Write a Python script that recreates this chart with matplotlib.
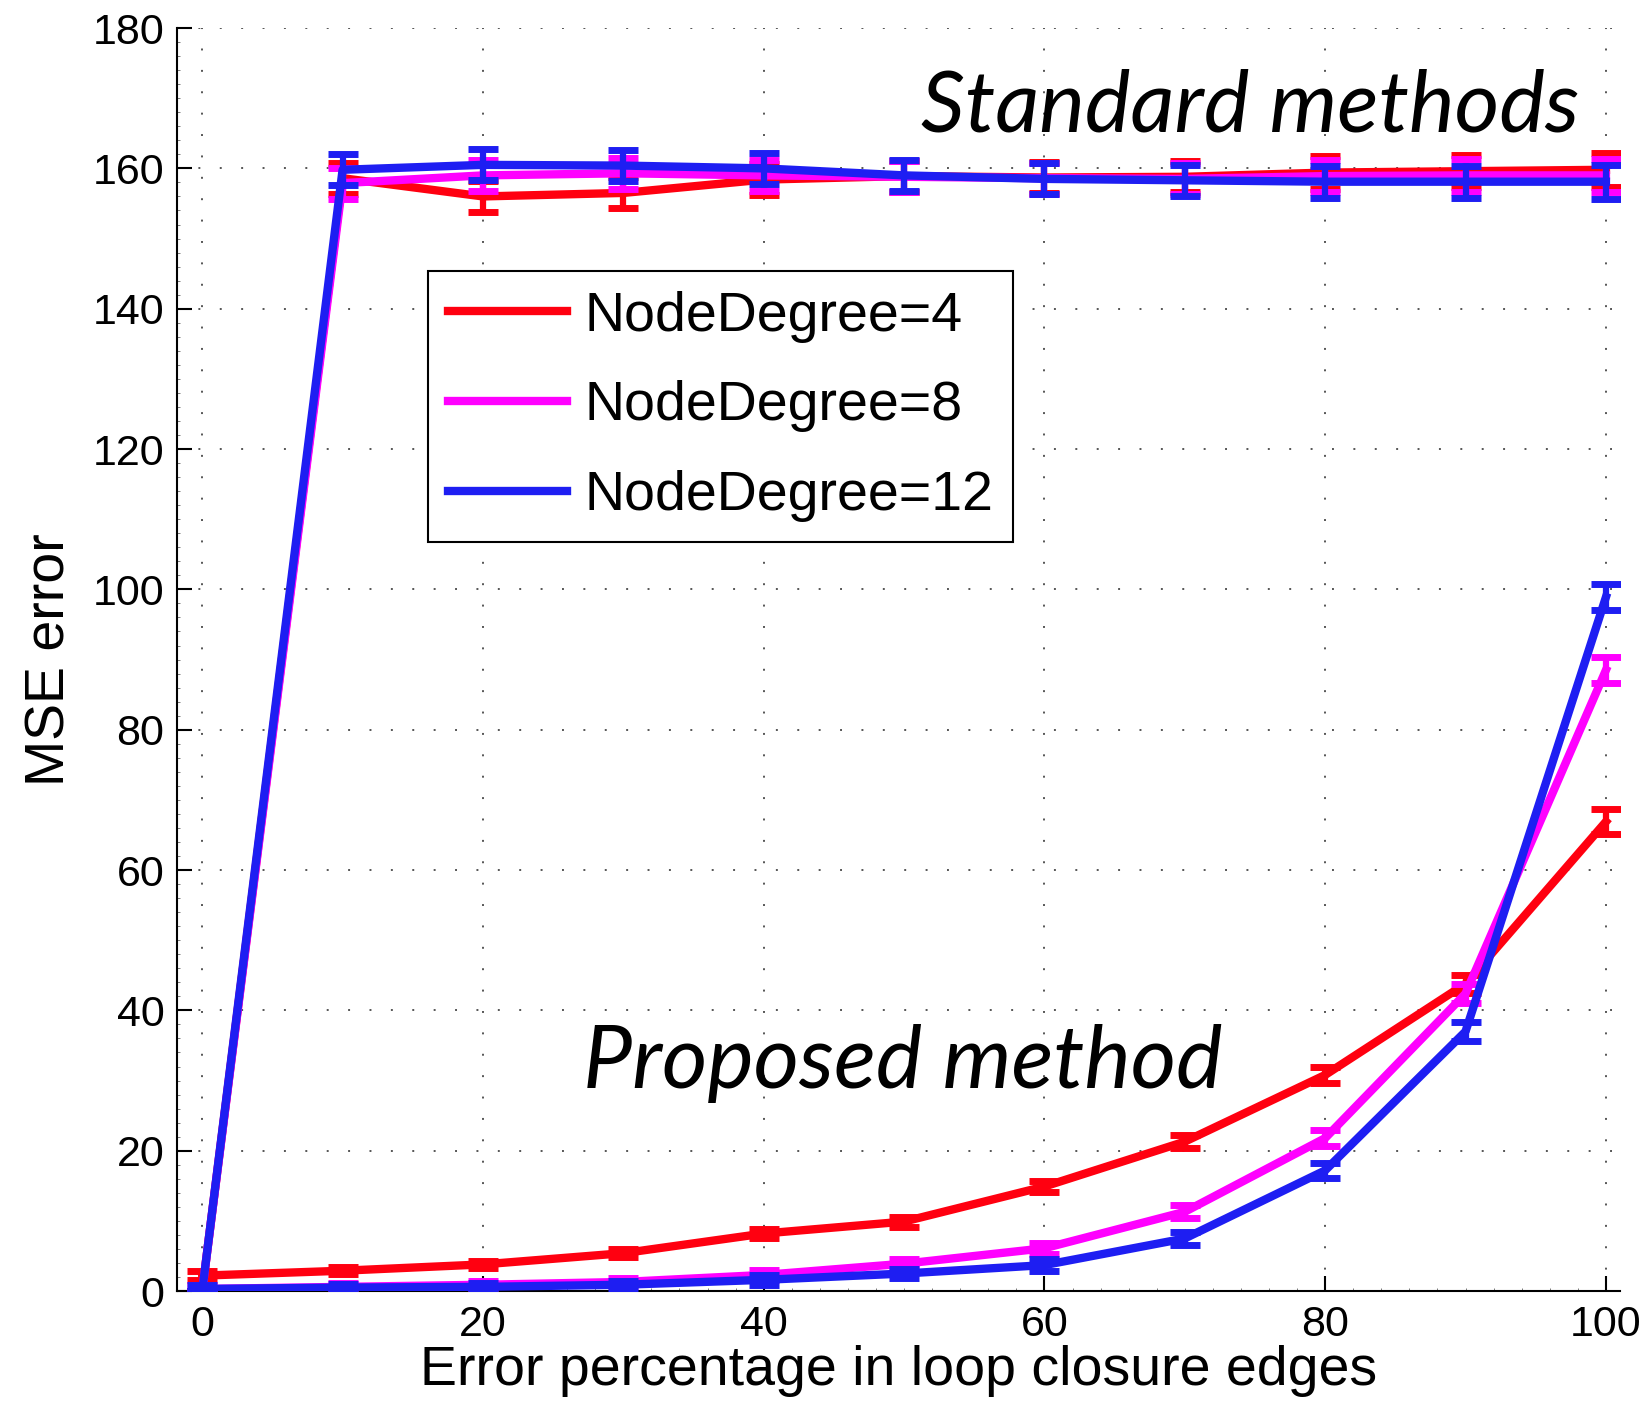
import matplotlib.pyplot as plt
from matplotlib.lines import Line2D
from matplotlib.ticker import MultipleLocator

x = [0, 10, 20, 30, 40, 50, 60, 70, 80, 90, 100]

# standard methods
std_nd4 = [0.0, 158.6, 156.0, 156.5, 158.4, 158.9, 158.7, 158.8, 159.4, 159.6, 159.8]
std_nd8 = [0.0, 157.9, 159.0, 159.3, 159.0, 158.8, 158.6, 158.5, 158.9, 159.0, 159.0]
std_nd12 = [0.0, 159.8, 160.5, 160.4, 160.0, 159.0, 158.5, 158.3, 158.1, 158.1, 158.1]
std_err = [0.0, 2.2, 2.2, 2.2, 2.2, 2.2, 2.2, 2.2, 2.3, 2.3, 2.4]

# proposed method
prop_nd4 = [2.2, 2.9, 3.8, 5.4, 8.2, 9.9, 14.9, 21.3, 30.8, 43.8, 66.9]
prop_nd8 = [0.3, 0.6, 0.9, 1.3, 2.3, 3.9, 6.1, 11.3, 21.8, 42.4, 88.5]
prop_nd12 = [0.3, 0.5, 0.6, 0.9, 1.6, 2.5, 3.7, 7.5, 17.2, 37.0, 98.9]
prop_err = [0.6, 0.5, 0.5, 0.6, 0.7, 0.7, 0.8, 0.9, 1.1, 1.3, 1.8]

labels = ["NodeDegree=4", "NodeDegree=8", "NodeDegree=12"]
colors = ["#ff0010", "#ff00ff", "#1e1ef2"]

plt.rcParams["font.family"] = ["Liberation Sans", "DejaVu Sans"]

fig = plt.figure(figsize=(16.49, 14.09), dpi=100)
ax = fig.add_axes([0.1073, 0.0837, 0.8751, 0.8964])

std = [std_nd4, std_nd8, std_nd12]
prop = [prop_nd4, prop_nd8, prop_nd12]
for i in range(3):
    ax.errorbar(x, std[i], yerr=std_err, color=colors[i], linewidth=6,
                capsize=11, capthick=5, elinewidth=4.5, zorder=3 + i)
    ax.errorbar(x, prop[i], yerr=prop_err, color=colors[i], linewidth=6,
                capsize=11, capthick=5, elinewidth=4.5, zorder=3 + i)

ax.set_xlim(-1.8, 101)
ax.set_ylim(0, 180)
ax.xaxis.set_major_locator(MultipleLocator(20))
ax.yaxis.set_major_locator(MultipleLocator(20))
ax.xaxis.set_minor_locator(MultipleLocator(2))
ax.yaxis.set_minor_locator(MultipleLocator(2))
ax.tick_params(which="major", direction="in", length=11, width=1.5, labelsize=31, pad=10)
ax.tick_params(which="minor", direction="in", length=2.5, width=0.6, color="#666666")
ax.tick_params(axis="y", pad=9)

ax.spines["top"].set_visible(False)
ax.spines["right"].set_visible(False)
ax.spines["left"].set_linewidth(1.5)
ax.spines["bottom"].set_linewidth(1.5)

ax.grid(True, which="major", linestyle=(0, (1, 10)), linewidth=1.4, color="#555555")
ax.set_axisbelow(True)

ax.set_xlabel("Error percentage in loop closure edges", fontsize=40, labelpad=0)
ax.set_ylabel("MSE error", fontsize=40, labelpad=12)

ax.text(51.2, 165.3, "Standard methods", fontsize=62, style="italic",
        family="Lato", zorder=10)
ax.text(27.1, 28.9, "Proposed method", fontsize=63, style="italic",
        family="Lato", zorder=10)

handles = [Line2D([], [], color=c, linewidth=6) for c in colors]
leg = ax.legend(handles, labels, loc="upper left", bbox_to_anchor=(0.174, 0.808),
                fontsize=40, handlelength=2.15, handletextpad=0.3, labelspacing=0.68,
                borderpad=0.36, borderaxespad=0, fancybox=False, framealpha=1,
                edgecolor="black")
leg.get_frame().set_linewidth(1.5)

plt.savefig("out.png", dpi=100)
